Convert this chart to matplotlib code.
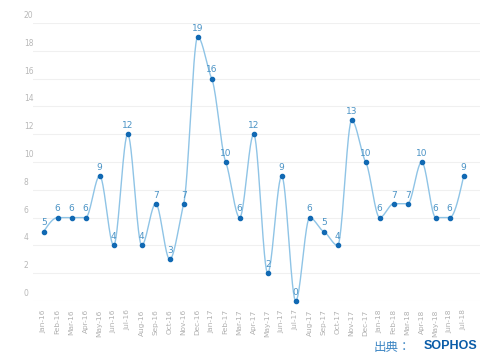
import numpy as np
import matplotlib.pyplot as plt

months = ['Jan-16', 'Feb-16', 'Mar-16', 'Apr-16', 'May-16', 'Jun-16', 'Jul-16', 'Aug-16',
          'Sep-16', 'Oct-16', 'Nov-16', 'Dec-16', 'Jan-17', 'Feb-17', 'Mar-17', 'Apr-17',
          'May-17', 'Jun-17', 'Jul-17', 'Aug-17', 'Sep-17', 'Oct-17', 'Nov-17', 'Dec-17',
          'Jan-18', 'Feb-18', 'Mar-18', 'Apr-18', 'May-18', 'Jun-18', 'Jul-18']
counts = [5, 6, 6, 6, 9, 4, 12, 4, 7, 3, 7, 19, 16, 10, 6, 12,
          2, 9, 0, 6, 5, 4, 13, 10, 6, 7, 7, 10, 6, 6, 9]
yticks = [0, 2, 4, 6, 8, 10, 12, 14, 16, 18, 20]


def smooth_curve(x, y, damp=0.5, n=30):
    # monotone slopes (d3 style), damped a bit so the line hugs the points
    x = np.asarray(x, float)
    y = np.asarray(y, float)
    k = len(x)
    t = np.zeros(k)
    for i in range(1, k - 1):
        h0 = x[i] - x[i - 1]
        h1 = x[i + 1] - x[i]
        s0 = (y[i] - y[i - 1]) / h0
        s1 = (y[i + 1] - y[i]) / h1
        p = (s0 * h1 + s1 * h0) / (h0 + h1)
        t[i] = (np.sign(s0) + np.sign(s1)) * min(abs(s0), abs(s1), 0.5 * abs(p)) * damp
    t[0] = (3 * (y[1] - y[0]) / (x[1] - x[0]) - t[1]) / 2
    t[-1] = (3 * (y[-1] - y[-2]) / (x[-1] - x[-2]) - t[-2]) / 2
    xs, ys = [], []
    for i in range(k - 1):
        dx = x[i + 1] - x[i]
        u = np.linspace(0, 1, n, endpoint=False)
        h00 = 2 * u**3 - 3 * u**2 + 1
        h10 = u**3 - 2 * u**2 + u
        h01 = -2 * u**3 + 3 * u**2
        h11 = u**3 - u**2
        xs.append(x[i] + u * dx)
        ys.append(h00 * y[i] + h10 * dx * t[i] + h01 * y[i + 1] + h11 * dx * t[i + 1])
    xs.append([x[-1]])
    ys.append([y[-1]])
    return np.concatenate(xs), np.concatenate(ys)


plt.rcParams['font.family'] = ['DejaVu Sans']

fig = plt.figure(figsize=(4.8, 3.58), dpi=100)
ax = fig.add_axes([33 / 480, 1 - 301 / 358, (480 - 33) / 480, (301 - 23) / 358])

xpos = np.arange(len(months))
# Jan-16 sits at ~43.7px, 14px per month
x0 = -(43.7 - 33) / 14
ax.set_xlim(x0, x0 + (480 - 33) / 14)
ax.set_ylim(0, 20)

for v in yticks:
    ax.axhline(v, color='#f0f0f0', lw=0.8, zorder=0)
    ax.annotate(str(v), xy=(0, v), xycoords=('figure fraction', 'data'),
                xytext=(24, 3), textcoords='offset pixels',
                ha='left', va='bottom', fontsize=5.5, color='#b8b8b8')

cx, cy = smooth_curve(xpos, counts)
ax.plot(cx, cy, color='#8fc4e6', lw=1.0, zorder=2, clip_on=False)
ax.scatter(xpos, counts, s=9, color='#1169b3', zorder=3, clip_on=False)
for xi, v in zip(xpos, counts):
    ax.annotate(str(v), (xi, v), xytext=(0, 3), textcoords='offset points',
                ha='center', va='bottom', fontsize=6.5, color='#4b93c5')

for s in ax.spines.values():
    s.set_visible(False)
ax.set_yticks([])
ax.set_xticks(xpos)
ax.set_xticklabels(months, rotation=90, fontsize=5.3, color='#b0b0b0')
ax.tick_params(axis='x', length=0, pad=6)

fig.text(374 / 480, 1 - 347 / 358, '出典：', fontsize=9, color='#3f87c4',
         family=['Noto Sans CJK JP', 'DejaVu Sans'], va='center', ha='left')
fig.text(477 / 480, 1 - 346 / 358, 'SOPHOS', fontsize=9, color='#0a5ca8',
         fontweight='bold', family=['Liberation Sans'], va='center', ha='right')

fig.savefig('out.png', dpi=100)
